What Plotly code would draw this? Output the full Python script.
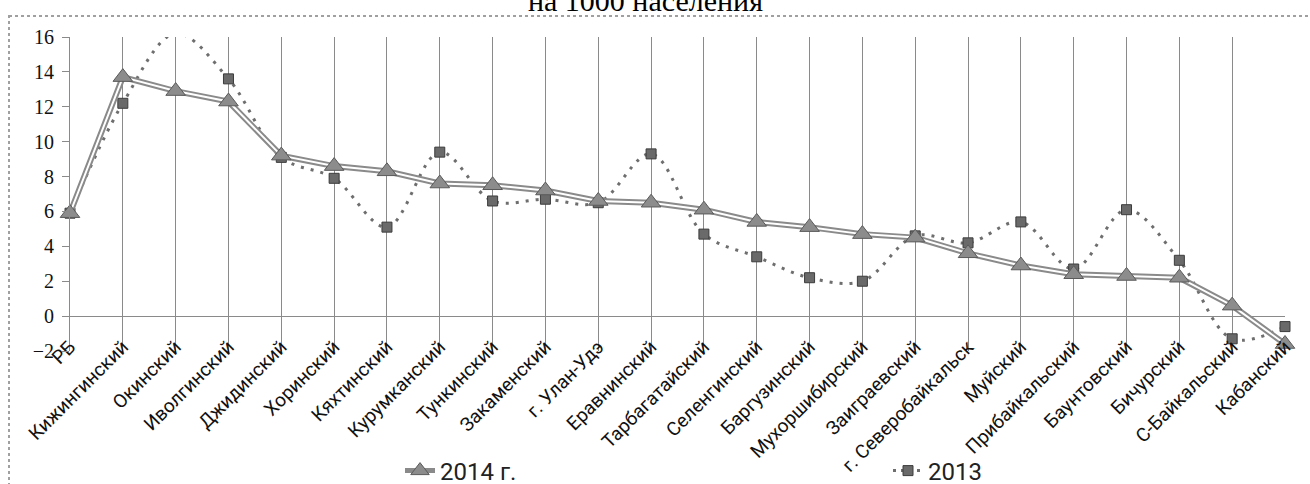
import numpy as np
import plotly.graph_objects as go

categories = ["РБ", "Кижингинский", "Окинский", "Иволгинский", "Джидинский", "Хоринский",
              "Кяхтинский", "Курумканский", "Тункинский", "Закаменский", "г. Улан-Удэ",
              "Еравнинский", "Тарбагатайский", "Селенгинский", "Баргузинский",
              "Мухоршибирский", "Заиграевский", "г. Северобайкальск", "Муйский",
              "Прибайкальский", "Баунтовский", "Бичурский", "С-Байкальский", "Кабанский"]
values_2014 = [5.9, 13.7, 12.9, 12.3, 9.2, 8.6, 8.3, 7.6, 7.5, 7.2, 6.6, 6.5, 6.1,
               5.4, 5.1, 4.7, 4.5, 3.6, 2.9, 2.4, 2.3, 2.2, 0.6, -1.6]
values_2013 = [5.9, 12.2, 16.2, 13.6, 9.1, 7.9, 5.1, 9.4, 6.6, 6.7, 6.5, 9.3, 4.7,
               3.4, 2.2, 2.0, 4.6, 4.2, 5.4, 2.7, 6.1, 3.2, -1.3, -0.6]
y_ticks = [-2, 0, 2, 4, 6, 8, 10, 12, 14, 16]
title_text = "на 1000 населения"
name_2014 = "2014 г."
name_2013 = "2013"

W, H = 1310, 484
L, R, T, B = 70, 25, 37, 133
pw, ph = W - L - R, H - T - B
YMAX = 16

def px_x(x):
    return (x - L) / pw

def px_y(y):
    return (H - B - y) / ph

fig = go.Figure()

# 2013: smoothed dotted line with squares
fig.add_trace(go.Scatter(
    x=categories, y=values_2013, mode="lines", name=name_2013,
    line=dict(color="#6e6e6e", width=3, dash="3px,7px", shape="spline", smoothing=1.0),
    showlegend=False, hoverinfo="skip"))
v13 = np.array(values_2013)
mask = v13 <= YMAX
fig.add_trace(go.Scatter(
    x=[c for c, m in zip(categories, mask) if m], y=v13[mask].tolist(),
    mode="markers", name=name_2013, legend="legend2",
    marker=dict(symbol="square", size=10, color="#6a6a6a", line=dict(color="#3c3c3c", width=1)),
    cliponaxis=False, showlegend=False))
fig.add_trace(go.Scatter(
    x=[None], y=[None], mode="lines+markers", name=name_2013, legend="legend2",
    line=dict(color="#6e6e6e", width=3, dash="3px,5px"),
    marker=dict(symbol="square", size=10, color="#6a6a6a", line=dict(color="#3c3c3c", width=1))))

# 2014: double line with triangles
fig.add_trace(go.Scatter(
    x=categories, y=values_2014, mode="lines", name=name_2014,
    line=dict(color="#8a8a8a", width=6), showlegend=False, hoverinfo="skip"))
fig.add_trace(go.Scatter(
    x=categories, y=values_2014, mode="lines", name=name_2014,
    line=dict(color="#ffffff", width=2), showlegend=False, hoverinfo="skip"))
fig.add_trace(go.Scatter(
    x=categories, y=values_2014, mode="markers", name=name_2014,
    marker=dict(symbol="triangle-up", size=17, color="#8c8c8c", line=dict(color="#5a5a5a", width=1)),
    cliponaxis=False, showlegend=False))
fig.add_trace(go.Scatter(
    x=[None], y=[None], mode="lines+markers", name=name_2014, legend="legend",
    line=dict(color="#8a8a8a", width=5),
    marker=dict(symbol="triangle-up", size=17, color="#8c8c8c", line=dict(color="#5a5a5a", width=1))))

fig.update_layout(
    width=W, height=H,
    margin=dict(l=L, r=R, t=T, b=B, autoexpand=False),
    paper_bgcolor="white", plot_bgcolor="white",
    xaxis=dict(type="category", range=[0, len(categories) - 1], automargin=False,
               showgrid=True, gridcolor="#8a8a8a", gridwidth=1,
               showline=False, zeroline=False, ticks="",
               tickangle=-45, ticklabelstandoff=-20,
               tickfont=dict(family="Roboto", size=19, color="#111")),
    yaxis=dict(range=[-2, YMAX], tickvals=y_ticks, showgrid=False, automargin=False,
               zeroline=True, zerolinecolor="#8a8a8a", zerolinewidth=1,
               showline=True, linecolor="#8a8a8a", linewidth=1,
               ticks="outside", ticklen=7, tickcolor="#8a8a8a",
               ticklabelstandoff=4,
               tickfont=dict(family="Liberation Serif", size=20, color="#111")),
    legend=dict(xref="container", yref="container", x=400 / W, y=1 - 471 / H,
                xanchor="left", yanchor="middle", orientation="h",
                bgcolor="rgba(0,0,0,0)",
                font=dict(family="Roboto", size=24, color="#222")),
    legend2=dict(xref="container", yref="container", x=888 / W, y=1 - 471 / H,
                 xanchor="left", yanchor="middle", orientation="h",
                 bgcolor="rgba(0,0,0,0)",
                 font=dict(family="Roboto", size=24, color="#222")),
    annotations=[dict(text=title_text, xref="paper", yref="paper",
                      x=px_x(645), y=px_y(19), xanchor="center", yanchor="bottom",
                      showarrow=False,
                      font=dict(family="Liberation Serif", size=30, color="#000"))],
    shapes=[dict(type="rect", xref="paper", yref="paper",
                 x0=px_x(9), y0=px_y(16), x1=px_x(1400), y1=px_y(600),
                 line=dict(color="#a0a0a0", width=2, dash="dot"),
                 fillcolor="rgba(0,0,0,0)", layer="below")],
)

fig.write_html("out.html", config={"displayModeBar": False},
               post_script="document.body.style.margin='0';")
